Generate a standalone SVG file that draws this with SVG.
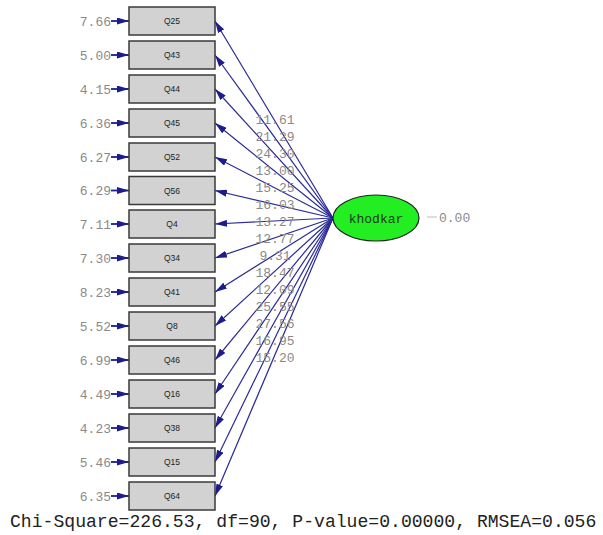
<svg xmlns="http://www.w3.org/2000/svg" width="603" height="535" viewBox="0 0 603 535">
<defs>
<marker id="ah" viewBox="0 0 12 7" refX="12" refY="3.5" markerWidth="12" markerHeight="7" markerUnits="userSpaceOnUse" orient="auto">
<path d="M0,0 L12,3.5 L0,7 Z" fill="#1c1c8c"/>
</marker>
<style>
.box{fill:#d2d2d2;stroke:#3a3a3a;stroke-width:1.5}
.bl{font-family:"Liberation Sans",Arial,sans-serif;font-size:8.5px;fill:#222;text-anchor:middle}
.num{font-family:"Liberation Mono","Courier New",monospace;font-size:13px;fill:#8a8a8a}
.err{text-anchor:end}
.pl{text-anchor:middle}
.ln{stroke:#2a2a96;stroke-width:1.2;fill:none}
.ea{stroke:#1c1c8c;stroke-width:1.8;fill:none}
</style>
</defs>
<rect width="603" height="535" fill="#fff"/>
<g id="connectors">
<path class="ln" marker-end="url(#ah)" d="M333,218 L215,21"/>
<path class="ln" marker-end="url(#ah)" d="M333,218 L215,55"/>
<path class="ln" marker-end="url(#ah)" d="M333,218 L215,89"/>
<path class="ln" marker-end="url(#ah)" d="M333,218 L215,123"/>
<path class="ln" marker-end="url(#ah)" d="M333,218 L215,157"/>
<path class="ln" marker-end="url(#ah)" d="M333,218 L215,190.5"/>
<path class="ln" marker-end="url(#ah)" d="M333,218 L215,224"/>
<path class="ln" marker-end="url(#ah)" d="M333,218 L215,258"/>
<path class="ln" marker-end="url(#ah)" d="M333,218 L215,292"/>
<path class="ln" marker-end="url(#ah)" d="M333,218 L215,326"/>
<path class="ln" marker-end="url(#ah)" d="M333,218 L215,360"/>
<path class="ln" marker-end="url(#ah)" d="M333,218 L215,394"/>
<path class="ln" marker-end="url(#ah)" d="M333,218 L215,428"/>
<path class="ln" marker-end="url(#ah)" d="M333,218 L215,462"/>
<path class="ln" marker-end="url(#ah)" d="M333,218 L215,496"/>
<path class="ea" marker-end="url(#ah)" d="M111,21 L129,21"/>
<path class="ea" marker-end="url(#ah)" d="M111,55 L129,55"/>
<path class="ea" marker-end="url(#ah)" d="M111,89 L129,89"/>
<path class="ea" marker-end="url(#ah)" d="M111,123 L129,123"/>
<path class="ea" marker-end="url(#ah)" d="M111,157 L129,157"/>
<path class="ea" marker-end="url(#ah)" d="M111,190.5 L129,190.5"/>
<path class="ea" marker-end="url(#ah)" d="M111,224 L129,224"/>
<path class="ea" marker-end="url(#ah)" d="M111,258 L129,258"/>
<path class="ea" marker-end="url(#ah)" d="M111,292 L129,292"/>
<path class="ea" marker-end="url(#ah)" d="M111,326 L129,326"/>
<path class="ea" marker-end="url(#ah)" d="M111,360 L129,360"/>
<path class="ea" marker-end="url(#ah)" d="M111,394 L129,394"/>
<path class="ea" marker-end="url(#ah)" d="M111,428 L129,428"/>
<path class="ea" marker-end="url(#ah)" d="M111,462 L129,462"/>
<path class="ea" marker-end="url(#ah)" d="M111,496 L129,496"/>
<line x1="427" y1="217" x2="437" y2="217" stroke="#c8c8c8" stroke-width="1.2"/>
</g>
<g id="path-labels" class="num pl">
<text x="275" y="124">11.61</text>
<text x="275" y="141">21.29</text>
<text x="275" y="158">24.30</text>
<text x="275" y="175">13.00</text>
<text x="275" y="192">15.25</text>
<text x="275" y="208.5">16.03</text>
<text x="275" y="225.5">13.27</text>
<text x="275" y="242.5">12.77</text>
<text x="275" y="259.5">9.31</text>
<text x="275" y="276.5">18.47</text>
<text x="275" y="293.5">12.09</text>
<text x="275" y="310.5">25.55</text>
<text x="275" y="327.5">27.56</text>
<text x="275" y="344.5">16.95</text>
<text x="275" y="361.5">15.20</text>
</g>
<g id="Q25"><rect class="box" x="129" y="7" width="86" height="28"/><text class="bl" x="172" y="24">Q25</text><text class="num err" x="111" y="25.5">7.66</text></g>
<g id="Q43"><rect class="box" x="129" y="41" width="86" height="28"/><text class="bl" x="172" y="58">Q43</text><text class="num err" x="111" y="59.5">5.00</text></g>
<g id="Q44"><rect class="box" x="129" y="75" width="86" height="28"/><text class="bl" x="172" y="92">Q44</text><text class="num err" x="111" y="93.5">4.15</text></g>
<g id="Q45"><rect class="box" x="129" y="109" width="86" height="28"/><text class="bl" x="172" y="126">Q45</text><text class="num err" x="111" y="127.5">6.36</text></g>
<g id="Q52"><rect class="box" x="129" y="143" width="86" height="28"/><text class="bl" x="172" y="160">Q52</text><text class="num err" x="111" y="161.5">6.27</text></g>
<g id="Q56"><rect class="box" x="129" y="176.5" width="86" height="28"/><text class="bl" x="172" y="193.5">Q56</text><text class="num err" x="111" y="195">6.29</text></g>
<g id="Q4"><rect class="box" x="129" y="210" width="86" height="28"/><text class="bl" x="172" y="227">Q4</text><text class="num err" x="111" y="228.5">7.11</text></g>
<g id="Q34"><rect class="box" x="129" y="244" width="86" height="28"/><text class="bl" x="172" y="261">Q34</text><text class="num err" x="111" y="262.5">7.30</text></g>
<g id="Q41"><rect class="box" x="129" y="278" width="86" height="28"/><text class="bl" x="172" y="295">Q41</text><text class="num err" x="111" y="296.5">8.23</text></g>
<g id="Q8"><rect class="box" x="129" y="312" width="86" height="28"/><text class="bl" x="172" y="329">Q8</text><text class="num err" x="111" y="330.5">5.52</text></g>
<g id="Q46"><rect class="box" x="129" y="346" width="86" height="28"/><text class="bl" x="172" y="363">Q46</text><text class="num err" x="111" y="364.5">6.99</text></g>
<g id="Q16"><rect class="box" x="129" y="380" width="86" height="28"/><text class="bl" x="172" y="397">Q16</text><text class="num err" x="111" y="398.5">4.49</text></g>
<g id="Q38"><rect class="box" x="129" y="414" width="86" height="28"/><text class="bl" x="172" y="431">Q38</text><text class="num err" x="111" y="432.5">4.23</text></g>
<g id="Q15"><rect class="box" x="129" y="448" width="86" height="28"/><text class="bl" x="172" y="465">Q15</text><text class="num err" x="111" y="466.5">5.46</text></g>
<g id="Q64"><rect class="box" x="129" y="482" width="86" height="28"/><text class="bl" x="172" y="499">Q64</text><text class="num err" x="111" y="500.5">6.35</text></g>
<g id="khodkar">
<ellipse cx="376" cy="218" rx="43" ry="23" fill="#22ee22" stroke="#222" stroke-width="1.2"/>
<text x="376" y="222.5" font-family="Liberation Mono,'Courier New',monospace" font-size="13" fill="#1a3a1a" text-anchor="middle">khodkar</text>
<text class="num" x="439" y="222">0.00</text>
</g>
<text id="fit" x="10" y="527" font-family="Liberation Mono,'Courier New',monospace" font-size="18.1" fill="#222">Chi-Square=226.53, df=90, P-value=0.00000, RMSEA=0.056</text>
</svg>
